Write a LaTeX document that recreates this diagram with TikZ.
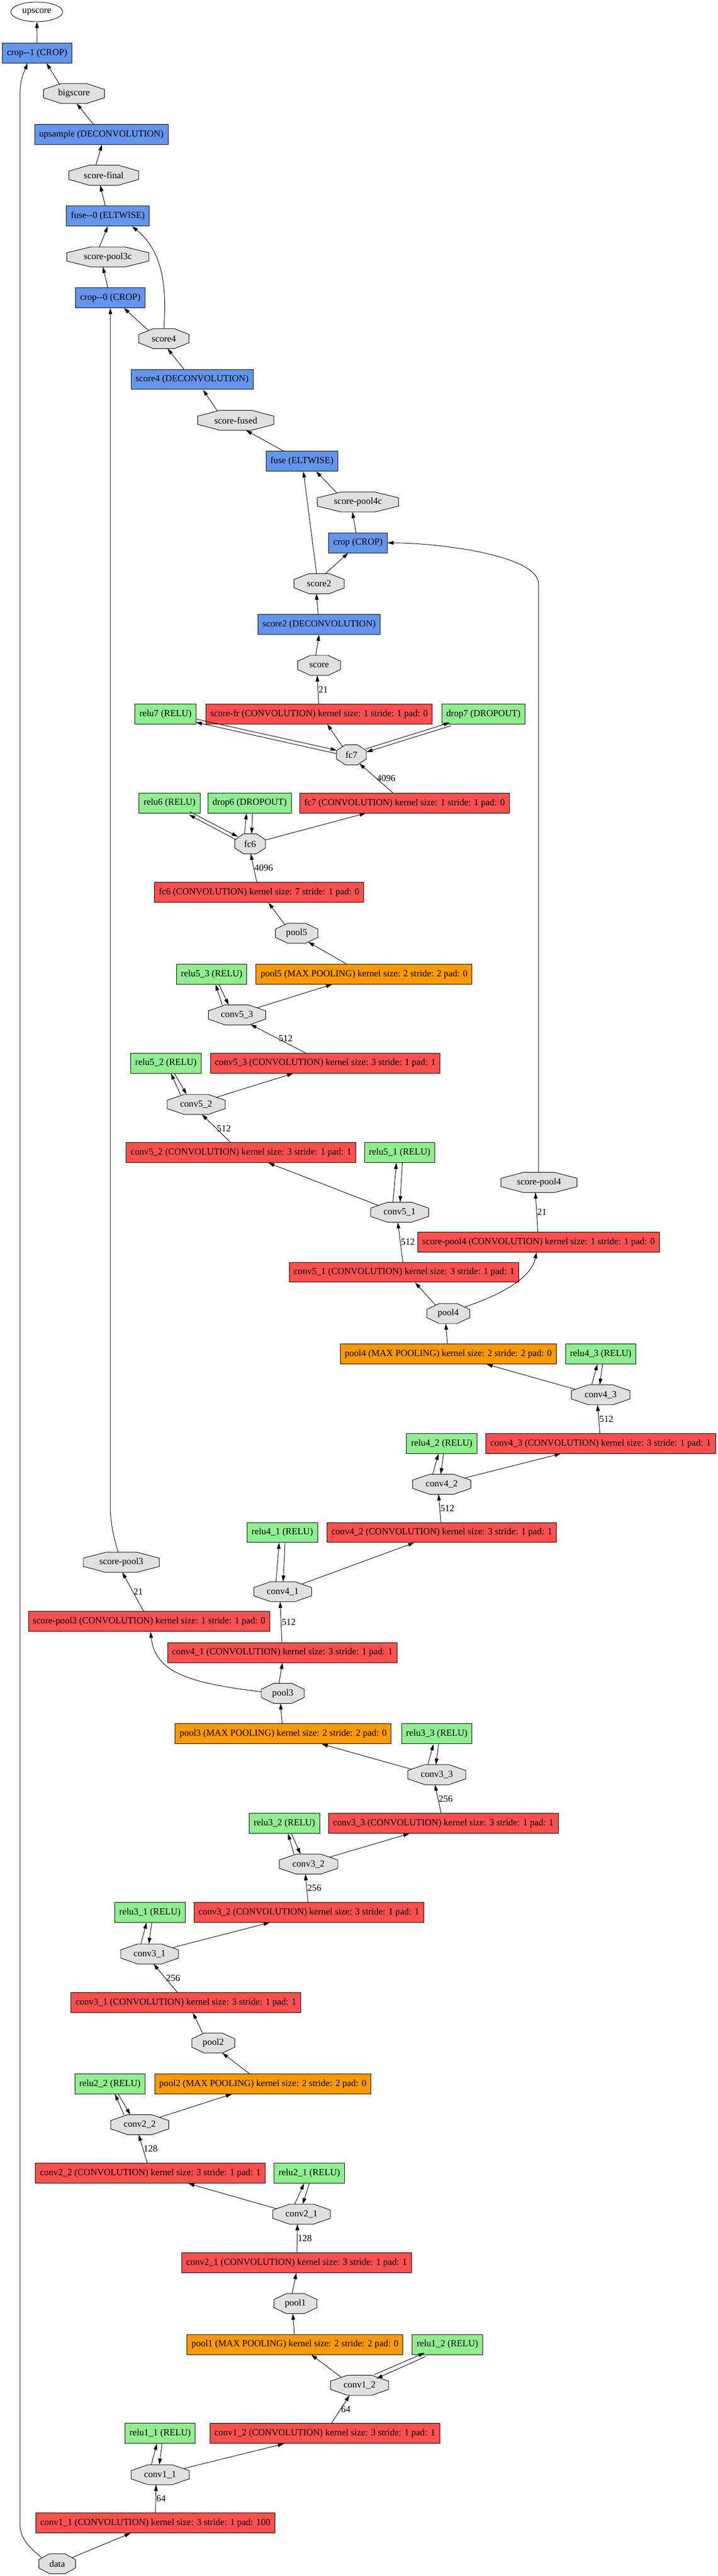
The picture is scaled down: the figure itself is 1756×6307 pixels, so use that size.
\documentclass[tikz,border=0pt]{standalone}
\usepackage{fontspec}
\setmainfont{Liberation Serif}
\usetikzlibrary{arrows.meta,shapes.geometric}

\definecolor{convred}{HTML}{FF5050}
\definecolor{poolorange}{HTML}{FF9900}
\definecolor{funcblue}{HTML}{6495ED}
\definecolor{relugreen}{HTML}{90EE90}
\definecolor{blobgray}{HTML}{E0E0E0}
\newcommand{\gvfont}{\fontsize{22.8}{27}\selectfont}

% octagon for the data blobs
\makeatletter
\pgfdeclareshape{blob}{%
  \inheritsavedanchors[from=rectangle]%
  \inheritanchor[from=rectangle]{center}%
  \inheritanchor[from=rectangle]{north}%
  \inheritanchor[from=rectangle]{south}%
  \inheritanchor[from=rectangle]{east}%
  \inheritanchor[from=rectangle]{west}%
  \inheritanchor[from=rectangle]{north east}%
  \inheritanchor[from=rectangle]{north west}%
  \inheritanchor[from=rectangle]{south east}%
  \inheritanchor[from=rectangle]{south west}%
  \inheritanchor[from=rectangle]{mid}%
  \inheritanchor[from=rectangle]{base}%
  \anchorborder{%
    \edef\blob@px{\the\pgf@x}\edef\blob@py{\the\pgf@y}%
    \southwest \edef\blob@sx{\the\pgf@x}\edef\blob@sy{\the\pgf@y}%
    \northeast \edef\blob@nx{\the\pgf@x}\edef\blob@ny{\the\pgf@y}%
    \pgfmathsetmacro\blob@cx{(\blob@sx+\blob@nx)/2}%
    \pgfmathsetmacro\blob@cy{(\blob@sy+\blob@ny)/2}%
    \pgfmathsetmacro\blob@hw{(\blob@nx-(\blob@sx))/2}%
    \pgfmathsetmacro\blob@hh{(\blob@ny-(\blob@sy))/2}%
    \pgfmathsetmacro\blob@dx{\blob@px-(\blob@cx)}%
    \pgfmathsetmacro\blob@dy{\blob@py-(\blob@cy)}%
    \pgfmathsetmacro\blob@ax{max(abs(\blob@dx),0.01)}%
    \pgfmathsetmacro\blob@ay{max(abs(\blob@dy),0.01)}%
    \pgfmathsetmacro\blob@t{min(\blob@hw/\blob@ax,\blob@hh/\blob@ay,1.4142/(\blob@ax/\blob@hw+\blob@ay/\blob@hh))}%
    \pgfmathsetmacro\blob@rx{\blob@cx+\blob@t*(\blob@dx)}%
    \pgfmathsetmacro\blob@ry{\blob@cy+\blob@t*(\blob@dy)}%
    \pgf@x=\blob@rx pt\relax
    \pgf@y=\blob@ry pt\relax
  }%
  \backgroundpath{%
    \southwest \pgf@xa=\pgf@x \pgf@ya=\pgf@y
    \northeast \pgf@xb=\pgf@x \pgf@yb=\pgf@y
    \pgf@xc=\pgf@xb \advance\pgf@xc by-\pgf@xa \pgf@xc=0.2929\pgf@xc
    \pgf@yc=\pgf@yb \advance\pgf@yc by-\pgf@ya \pgf@yc=0.2929\pgf@yc
    \edef\blob@xa{\the\pgf@xa}\edef\blob@xb{\the\pgf@xb}%
    \edef\blob@ya{\the\pgf@ya}\edef\blob@yb{\the\pgf@yb}%
    \advance\pgf@xa by\pgf@xc \advance\pgf@xb by-\pgf@xc
    \advance\pgf@ya by\pgf@yc \advance\pgf@yb by-\pgf@yc
    \edef\blob@xc{\the\pgf@xa}\edef\blob@xd{\the\pgf@xb}%
    \edef\blob@yc{\the\pgf@ya}\edef\blob@yd{\the\pgf@yb}%
    \pgfpathmoveto{\pgfqpoint{\blob@xc}{\blob@ya}}%
    \pgfpathlineto{\pgfqpoint{\blob@xd}{\blob@ya}}%
    \pgfpathlineto{\pgfqpoint{\blob@xb}{\blob@yc}}%
    \pgfpathlineto{\pgfqpoint{\blob@xb}{\blob@yd}}%
    \pgfpathlineto{\pgfqpoint{\blob@xd}{\blob@yb}}%
    \pgfpathlineto{\pgfqpoint{\blob@xc}{\blob@yb}}%
    \pgfpathlineto{\pgfqpoint{\blob@xa}{\blob@yd}}%
    \pgfpathlineto{\pgfqpoint{\blob@xa}{\blob@yc}}%
    \pgfpathclose
  }%
}
\makeatother

\tikzset{every picture/.style={line width=1.2pt}}
\tikzset{
  layerbox/.style={draw, rectangle, minimum height=49, inner xsep=11, inner ysep=0, font=\gvfont},
  convbox/.style={layerbox, fill=convred},
  poolbox/.style={layerbox, fill=poolorange},
  funcbox/.style={layerbox, fill=funcblue},
  relubox/.style={layerbox, fill=relugreen},
  blobnode/.style={draw, shape=blob, fill=blobgray, minimum height=49, inner sep=0, outer sep=0, font=\gvfont},
  flow/.style={draw, -{Triangle[length=15pt,width=9pt]}},
  elabel/.style={font=\gvfont, anchor=west, inner sep=1pt},
}

\begin{document}
\begin{tikzpicture}[x=1pt,y=1pt,yscale=-1,xscale=1]
\useasboundingbox (0,0) rectangle (1756,6307);

%Blobs
\node [draw, ellipse, fill=white, minimum width=127, minimum height=48, inner sep=0, font=\gvfont] (upscore) at (90,29) {upscore};
\node [blobnode, minimum width=149] (bigscore) at (181,229) {bigscore};
\node [blobnode, minimum width=171] (scorefinal) at (254,429) {score-final};
\node [blobnode, minimum width=201] (scorepool3c) at (264,629) {score-pool3c};
\node [blobnode, minimum width=123] (score4) at (401,829) {score4};
\node [blobnode, minimum width=186] (scorefused) at (577,1029) {score-fused};
\node [blobnode, minimum width=199] (scorepool4c) at (876,1229) {score-pool4c};
\node [blobnode, minimum width=123] (score2) at (781,1429) {score2};
\node [blobnode, minimum width=105] (score) at (781,1629) {score};
\node [blobnode, minimum width=73] (fc7) at (860,1848) {fc7};
\node [blobnode, minimum width=75] (fc6) at (612,2066) {fc6};
\node [blobnode, minimum width=104] (pool5) at (726,2285) {pool5};
\node [blobnode, minimum width=140] (conv53) at (580,2485) {conv5\_3};
\node [blobnode, minimum width=142] (conv52) at (480,2704) {conv5\_2};
\node [blobnode, minimum width=186] (scorepool4) at (1319,2895) {score-pool4};
\node [blobnode, minimum width=142] (conv51) at (978,2968) {conv5\_1};
\node [blobnode, minimum width=105] (pool4) at (1097,3216) {pool4};
\node [blobnode, minimum width=143] (conv43) at (1470,3415) {conv4\_3};
\node [blobnode, minimum width=142] (conv42) at (1081,3634) {conv4\_2};
\node [blobnode, minimum width=186] (scorepool3) at (297,3825) {score-pool3};
\node [blobnode, minimum width=141] (conv41) at (692,3897) {conv4\_1};
\node [blobnode, minimum width=105] (pool3) at (692,4146) {pool3};
\node [blobnode, minimum width=142] (conv33) at (1069,4345) {conv3\_3};
\node [blobnode, minimum width=143] (conv32) at (755,4564) {conv3\_2};
\node [blobnode, minimum width=141] (conv31) at (366,4784) {conv3\_1};
\node [blobnode, minimum width=105] (pool2) at (522,5002) {pool2};
\node [blobnode, minimum width=142] (conv22) at (342,5202) {conv2\_2};
\node [blobnode, minimum width=141] (conv21) at (738,5421) {conv2\_1};
\node [blobnode, minimum width=105] (pool1) at (723,5640) {pool1};
\node [blobnode, minimum width=142] (conv12) at (880,5840) {conv1\_2};
\node [blobnode, minimum width=142] (conv11) at (392,6059) {conv1\_1};
\node [blobnode, minimum width=90] (data) at (140,6277) {data};

%Layers
\node [funcbox] (crop1L) at (91,129.5) {crop-{}-1 (CROP)};
\node [funcbox] (upsampleL) at (248,329) {upsample (DECONVOLUTION)};
\node [funcbox] (fuse0L) at (264,529) {fuse-{}-0 (ELTWISE)};
\node [funcbox] (crop0L) at (270,729) {crop-{}-0 (CROP)};
\node [funcbox] (score4L) at (470,929) {score4 (DECONVOLUTION)};
\node [funcbox] (fuseL) at (739,1129) {fuse (ELTWISE)};
\node [funcbox] (cropL) at (876,1329) {crop (CROP)};
\node [funcbox] (score2L) at (781,1529) {score2 (DECONVOLUTION)};
\node [convbox] (scorefrL) at (781,1748) {score-fr (CONVOLUTION) kernel size: 1 stride: 1 pad: 0};
\node [relubox] (relu7) at (405,1748) {relu7 (RELU)};
\node [relubox] (drop7) at (1183,1748) {drop7 (DROPOUT)};
\node [relubox] (relu6) at (415,1966) {relu6 (RELU)};
\node [relubox] (drop6) at (611,1966) {drop6 (DROPOUT)};
\node [convbox] (fc7L) at (990,1966) {fc7 (CONVOLUTION) kernel size: 1 stride: 1 pad: 0};
\node [convbox] (fc6L) at (634,2185) {fc6 (CONVOLUTION) kernel size: 7 stride: 1 pad: 0};
\node [relubox] (relu53) at (518,2385) {relu5\_3 (RELU)};
\node [poolbox] (pool5L) at (891,2385) {pool5 (MAX POOLING) kernel size: 2 stride: 2 pad: 0};
\node [relubox] (relu52) at (406,2603) {relu5\_2 (RELU)};
\node [convbox] (conv53L) at (796,2603) {conv5\_3 (CONVOLUTION) kernel size: 3 stride: 1 pad: 1};
\node [convbox] (conv52L) at (590,2822) {conv5\_2 (CONVOLUTION) kernel size: 3 stride: 1 pad: 1};
\node [relubox] (relu51) at (978,2822) {relu5\_1 (RELU)};
\node [convbox] (scorepool4L) at (1318,3041) {score-pool4 (CONVOLUTION) kernel size: 1 stride: 1 pad: 0};
\node [convbox] (conv51L) at (989,3115) {conv5\_1 (CONVOLUTION) kernel size: 3 stride: 1 pad: 1};
\node [poolbox] (pool4L) at (1097,3315) {pool4 (MAX POOLING) kernel size: 2 stride: 2 pad: 0};
\node [relubox] (relu43) at (1470,3315) {relu4\_3 (RELU)};
\node [relubox] (relu42) at (1081,3534) {relu4\_2 (RELU)};
\node [convbox] (conv43L) at (1470,3534) {conv4\_3 (CONVOLUTION) kernel size: 3 stride: 1 pad: 1};
\node [relubox] (relu41) at (691,3752) {relu4\_1 (RELU)};
\node [convbox] (conv42L) at (1081,3752) {conv4\_2 (CONVOLUTION) kernel size: 3 stride: 1 pad: 1};
\node [convbox] (scorepool3L) at (365,3970) {score-pool3 (CONVOLUTION) kernel size: 1 stride: 1 pad: 0};
\node [convbox] (conv41L) at (691,4046) {conv4\_1 (CONVOLUTION) kernel size: 3 stride: 1 pad: 1};
\node [poolbox] (pool3L) at (693,4245) {pool3 (MAX POOLING) kernel size: 2 stride: 2 pad: 0};
\node [relubox] (relu33) at (1069,4245) {relu3\_3 (RELU)};
\node [relubox] (relu32) at (696,4464) {relu3\_2 (RELU)};
\node [convbox] (conv33L) at (1085,4464) {conv3\_3 (CONVOLUTION) kernel size: 3 stride: 1 pad: 1};
\node [relubox] (relu31) at (367,4682) {relu3\_1 (RELU)};
\node [convbox] (conv32L) at (756,4682) {conv3\_2 (CONVOLUTION) kernel size: 3 stride: 1 pad: 1};
\node [convbox] (conv31L) at (455,4903) {conv3\_1 (CONVOLUTION) kernel size: 3 stride: 1 pad: 1};
\node [relubox] (relu22) at (269,5102) {relu2\_2 (RELU)};
\node [poolbox] (pool2L) at (643,5102) {pool2 (MAX POOLING) kernel size: 2 stride: 2 pad: 0};
\node [convbox] (conv22L) at (368,5321) {conv2\_2 (CONVOLUTION) kernel size: 3 stride: 1 pad: 1};
\node [relubox] (relu21) at (757,5321) {relu2\_1 (RELU)};
\node [convbox] (conv21L) at (726,5540) {conv2\_1 (CONVOLUTION) kernel size: 3 stride: 1 pad: 1};
\node [poolbox] (pool1L) at (722,5740) {pool1 (MAX POOLING) kernel size: 2 stride: 2 pad: 0};
\node [relubox] (relu12) at (1095,5740) {relu1\_2 (RELU)};
\node [relubox] (relu11) at (392,5958) {relu1\_1 (RELU)};
\node [convbox] (conv12L) at (795,5958) {conv1\_2 (CONVOLUTION) kernel size: 3 stride: 1 pad: 1};
\node [convbox] (conv11L) at (380,6177) {conv1\_1 (CONVOLUTION) kernel size: 3 stride: 1 pad: 100};

%Straight Lines: block 1
\draw [flow] (data) -- (conv11L);
\draw [flow] (conv11L) -- node[elabel] {64} (conv11);
\draw [flow, transform canvas={xshift=-8}] (conv11) -- (relu11);
\draw [flow, transform canvas={xshift=8}] (relu11) -- (conv11);
\draw [flow] (conv11) -- (conv12L);
\draw [flow] (conv12L) -- node[elabel] {64} (conv12);
\draw [flow, transform canvas={xshift=-2,yshift=4.5}] (conv12) -- (relu12);
\draw [flow, transform canvas={xshift=2,yshift=-4.5}] (relu12) -- (conv12);
\draw [flow] (conv12) -- (pool1L);
\draw [flow] (pool1L) -- (pool1);

%Straight Lines: block 2
\draw [flow] (pool1) -- (conv21L);
\draw [flow] (conv21L) -- node[elabel] {128} (conv21);
\draw [flow, transform canvas={xshift=-8}] (conv21) -- (relu21);
\draw [flow, transform canvas={xshift=8}] (relu21) -- (conv21);
\draw [flow] (conv21) -- (conv22L);
\draw [flow] (conv22L) -- node[elabel] {128} (conv22);
\draw [flow, transform canvas={xshift=-6}] (conv22) -- (relu22);
\draw [flow, transform canvas={xshift=6}] (relu22) -- (conv22);
\draw [flow] (conv22) -- (pool2L);
\draw [flow] (pool2L) -- (pool2);

%Straight Lines: block 3
\draw [flow] (pool2) -- (conv31L);
\draw [flow] (conv31L) -- node[elabel] {256} (conv31);
\draw [flow, transform canvas={xshift=-8}] (conv31) -- (relu31);
\draw [flow, transform canvas={xshift=8}] (relu31) -- (conv31);
\draw [flow] (conv31) -- (conv32L);
\draw [flow] (conv32L) -- node[elabel] {256} (conv32);
\draw [flow, transform canvas={xshift=-6}] (conv32) -- (relu32);
\draw [flow, transform canvas={xshift=6}] (relu32) -- (conv32);
\draw [flow] (conv32) -- (conv33L);
\draw [flow] (conv33L) -- node[elabel] {256} (conv33);
\draw [flow, transform canvas={xshift=-8}] (conv33) -- (relu33);
\draw [flow, transform canvas={xshift=8}] (relu33) -- (conv33);
\draw [flow] (conv33) -- (pool3L);
\draw [flow] (pool3L) -- (pool3);

%Straight Lines: block 4
\draw [flow] (pool3) -- (conv41L);
\draw [flow] (pool3) .. controls (450,4120) and (380,4090) .. (scorepool3L);
\draw [flow] (scorepool3L) -- node[elabel] {21} (scorepool3);
\draw [flow] (conv41L) -- node[elabel] {512} (conv41);
\draw [flow, transform canvas={xshift=-8}] (conv41) -- (relu41);
\draw [flow, transform canvas={xshift=8}] (relu41) -- (conv41);
\draw [flow] (conv41) -- (conv42L);
\draw [flow] (conv42L) -- node[elabel] {512} (conv42);
\draw [flow, transform canvas={xshift=-8}] (conv42) -- (relu42);
\draw [flow, transform canvas={xshift=8}] (relu42) -- (conv42);
\draw [flow] (conv42) -- (conv43L);
\draw [flow] (conv43L) -- node[elabel] {512} (conv43);
\draw [flow, transform canvas={xshift=-8}] (conv43) -- (relu43);
\draw [flow, transform canvas={xshift=8}] (relu43) -- (conv43);
\draw [flow] (conv43) -- (pool4L);
\draw [flow] (pool4L) -- (pool4);

%Straight Lines: block 5
\draw [flow] (pool4) -- (conv51L);
\draw [flow] (pool4) .. controls (1225,3170) and (1300,3130) .. (scorepool4L);
\draw [flow] (scorepool4L) -- node[elabel] {21} (scorepool4);
\draw [flow] (conv51L) -- node[elabel] {512} (conv51);
\draw [flow, transform canvas={xshift=-8}] (conv51) -- (relu51);
\draw [flow, transform canvas={xshift=8}] (relu51) -- (conv51);
\draw [flow] (conv51) -- (conv52L);
\draw [flow] (conv52L) -- node[elabel] {512} (conv52);
\draw [flow, transform canvas={xshift=-6}] (conv52) -- (relu52);
\draw [flow, transform canvas={xshift=6}] (relu52) -- (conv52);
\draw [flow] (conv52) -- (conv53L);
\draw [flow] (conv53L) -- node[elabel] {512} (conv53);
\draw [flow, transform canvas={xshift=-6}] (conv53) -- (relu53);
\draw [flow, transform canvas={xshift=6}] (relu53) -- (conv53);
\draw [flow] (conv53) -- (pool5L);
\draw [flow] (pool5L) -- (pool5);

%Straight Lines: fc6, fc7, score
\draw [flow] (pool5) -- (fc6L);
\draw [flow] (fc6L) -- node[elabel] {4096} (fc6);
\draw [flow, transform canvas={xshift=-1.8,yshift=-3.6}] (fc6) -- (relu6);
\draw [flow, transform canvas={xshift=1.8,yshift=3.6}] (relu6) -- (fc6);
\draw [flow, transform canvas={xshift=-8}] (fc6) -- (drop6);
\draw [flow, transform canvas={xshift=8}] (drop6) -- (fc6);
\draw [flow] (fc6) -- (fc7L);
\draw [flow] (fc7L) -- node[elabel] {4096} (fc7);
\draw [flow, transform canvas={xshift=-0.9,yshift=-3.9}] (fc7) -- (relu7);
\draw [flow, transform canvas={xshift=0.9,yshift=3.9}] (relu7) -- (fc7);
\draw [flow, transform canvas={xshift=-1.2,yshift=3.8}] (fc7) -- (drop7);
\draw [flow, transform canvas={xshift=1.2,yshift=-3.8}] (drop7) -- (fc7);
\draw [flow] (fc7) -- (scorefrL);
\draw [flow] (scorefrL) -- node[elabel] {21} (score);

%Straight Lines: upsampling and fusion
\draw [flow] (score) -- (score2L);
\draw [flow] (score2L) -- (score2);
\draw [flow] (score2) -- (cropL);
\draw [flow] (score2) -- (fuseL);
\draw [flow] (scorepool4) -- (1318,1430) .. controls (1318,1360) and (1080,1330) .. (cropL.east);
\draw [flow] (cropL) -- (scorepool4c);
\draw [flow] (scorepool4c) -- (fuseL);
\draw [flow] (fuseL) -- (scorefused);
\draw [flow] (scorefused) -- (score4L);
\draw [flow] (score4L) -- (score4);
\draw [flow] (score4) -- (crop0L);
\draw [flow] (score4.north) .. controls (407,720) and (405,620) .. ([xshift=59]fuse0L.south);
\draw [flow] ([xshift=-8]scorepool3.north) .. controls (272,3740) and (270,3720) .. (270,3680) -- (crop0L);
\draw [flow] (crop0L) -- (scorepool3c);
\draw [flow] (scorepool3c) -- (fuse0L);
\draw [flow] (fuse0L) -- (scorefinal);
\draw [flow] (scorefinal) -- (upsampleL);
\draw [flow] (upsampleL) -- (bigscore);
\draw [flow] (bigscore) -- (crop1L);
\draw [flow] (data) .. controls (70,6235) and (49,6215) .. (49,6180) -- (49,230) .. controls (49,190) and (62,170) .. ([xshift=-24]crop1L.south);
\draw [flow] (crop1L) -- (upscore);

\end{tikzpicture}
\end{document}
